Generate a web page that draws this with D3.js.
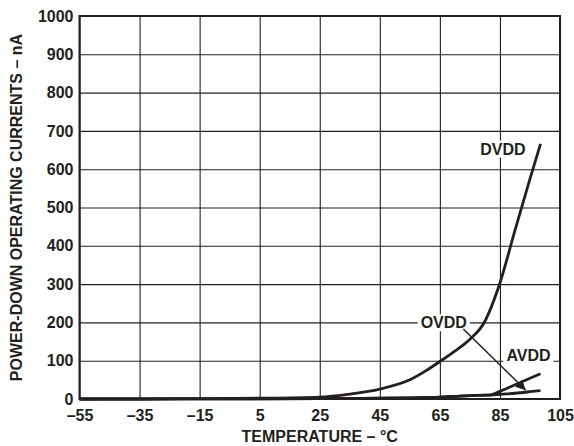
<!DOCTYPE html>
<html>
<head>
<meta charset="utf-8">
<script src="https://cdn.jsdelivr.net/npm/d3@7"></script>
<style>
	body { margin: 0; background: #fff; }
	svg { display: block; font-family: "Liberation Sans", Arial, Helvetica, sans-serif; font-weight: bold; }
</style>
</head>
<body>
<div id="chart"></div>
<script>

// temperature samples, °C
const temps = [ -55, -35, -15, 5, 25, 35, 45, 55, 60, 65, 70, 75, 80, 82, 85, 90, 95, 98.5 ];

// power-down currents, nA
const dvdd = [ 0, 0.5, 1, 2, 5, 13, 26, 50, 72, 98, 125, 156, 203, 238, 303, 440, 575, 666 ];
const avdd = [ 0, 0, 0.5, 0.5, 1, 1.5, 2, 3, 4, 5, 7, 9, 10, 11, 20, 37, 54, 66 ];
const ovdd = [ 0, 0, 0.5, 0.5, 1, 1.5, 2, 3, 4, 5, 7, 9, 10, 10, 12, 15, 19, 22 ];

const xTicks = [ -55, -35, -15, 5, 25, 45, 65, 85, 105 ];
const yTicks = [ 0, 100, 200, 300, 400, 500, 600, 700, 800, 900, 1000 ];

// label anchors in data units [ temp, nA ]
const labels = [
	{ text: "DVDD", at: [ 86, 653 ] },
	{ text: "OVDD", at: [ 66.3, 200 ] },
	{ text: "AVDD", at: [ 94.5, 114 ] }
];
const ovddArrow = [ [ 72.8, 183 ], [ 93.6, 23 ] ];

///////////////////////////////////////////////////////////////////////

const W = 574, H = 446;
const ink = "#231f20";
const font = "bold 16px 'Liberation Sans', Arial, sans-serif";

const svg = d3.select( "#chart" ).append( "svg" )
	.attr( "width", W )
	.attr( "height", H );

const x = d3.scaleLinear( [ -55, 105 ], [ 79.5, 560 ] );
const y = d3.scaleLinear( [ 0, 1000 ], [ 399, 16 ] );

const fmtT = d => d < 0 ? "\u2013" + Math.abs( d ) : String( d );

// grid
svg.append( "g" )
	.attr( "transform", `translate(0,${ y( 0 ) })` )
	.call( d3.axisBottom( x ).tickValues( xTicks ).tickSize( -( y( 0 ) - y( 1000 ) ) ).tickFormat( "" ) )
	.call( g => g.select( ".domain" ).remove() )
	.call( g => g.selectAll( "line" ).attr( "stroke", ink ).attr( "stroke-width", 1.1 ) );

svg.append( "g" )
	.attr( "transform", `translate(${ x( -55 ) },0)` )
	.call( d3.axisLeft( y ).tickValues( yTicks ).tickSize( -( x( 105 ) - x( -55 ) ) ).tickFormat( "" ) )
	.call( g => g.select( ".domain" ).remove() )
	.call( g => g.selectAll( "line" ).attr( "stroke", ink ).attr( "stroke-width", 1.1 ) );

// tick labels
svg.append( "g" )
	.attr( "transform", `translate(0,${ y( 0 ) })` )
	.call( d3.axisBottom( x ).tickValues( xTicks ).tickSize( 0 ).tickPadding( 11 ).tickFormat( fmtT ) )
	.call( g => g.select( ".domain" ).remove() )
	.call( g => g.selectAll( "text" ).attr( "fill", ink ).style( "font", font ) );

svg.append( "g" )
	.attr( "transform", `translate(${ x( -55 ) },0)` )
	.call( d3.axisLeft( y ).tickValues( yTicks ).tickSize( 0 ).tickPadding( 6 ).tickFormat( d3.format( "d" ) ) )
	.call( g => g.select( ".domain" ).remove() )
	.call( g => g.selectAll( "text" ).attr( "fill", ink ).style( "font", font ) );

// frame
svg.append( "rect" )
	.attr( "x", x( -55 ) )
	.attr( "y", y( 1000 ) )
	.attr( "width", x( 105 ) - x( -55 ) )
	.attr( "height", y( 0 ) - y( 1000 ) )
	.attr( "fill", "none" )
	.attr( "stroke", ink )
	.attr( "stroke-width", 2 );

// axis titles
svg.append( "text" )
	.attr( "x", ( x( -55 ) + x( 105 ) ) / 2 )
	.attr( "y", 442 )
	.attr( "text-anchor", "middle" )
	.attr( "fill", ink )
	.style( "font", font )
	.text( "TEMPERATURE \u2013 \u00B0C" );

svg.append( "text" )
	.attr( "transform", `translate(22,${ ( y( 0 ) + y( 1000 ) ) / 2 }) rotate(-90)` )
	.attr( "text-anchor", "middle" )
	.attr( "fill", ink )
	.style( "font", font )
	.text( "POWER-DOWN OPERATING CURRENTS \u2013 nA" );

// curves
const line = d3.line()
	.x( ( d, i ) => x( temps[ i ] ) )
	.y( d => y( d ) )
	.curve( d3.curveMonotoneX );

svg.append( "g" )
	.selectAll( "path" )
	.data( [ ovdd, avdd, dvdd ] )
	.join( "path" )
		.attr( "d", line )
		.attr( "fill", "none" )
		.attr( "stroke", ink )
		.attr( "stroke-width", 2.8 )
		.attr( "stroke-linejoin", "round" );

// labels with white knock-out
const lab = svg.append( "g" )
	.selectAll( "g" )
	.data( labels )
	.join( "g" )
		.attr( "transform", d => `translate(${ x( d.at[ 0 ] ) },${ y( d.at[ 1 ] ) })` );

lab.append( "text" )
	.attr( "text-anchor", "middle" )
	.attr( "dy", "0.36em" )
	.attr( "fill", ink )
	.style( "font", font )
	.text( d => d.text );

lab.each( function()	{
	let g = d3.select( this );
	let b = g.select( "text" ).node().getBBox();
	g.insert( "rect", "text" )
		.attr( "x", b.x - 3 )
		.attr( "y", b.y )
		.attr( "width", b.width + 6 )
		.attr( "height", b.height )
		.attr( "fill", "#fff" );
} );

// arrow OVDD -> curve
svg.append( "defs" ).append( "marker" )
	.attr( "id", "head" )
	.attr( "viewBox", "0 0 10 10" )
	.attr( "refX", 10 )
	.attr( "refY", 5 )
	.attr( "markerWidth", 14 )
	.attr( "markerHeight", 10 )
	.attr( "markerUnits", "userSpaceOnUse" )
	.attr( "orient", "auto" )
	.append( "path" )
		.attr( "d", "M0,0L10,5L0,10Z" )
		.attr( "fill", ink );

svg.append( "line" )
	.attr( "x1", x( ovddArrow[ 0 ][ 0 ] ) )
	.attr( "y1", y( ovddArrow[ 0 ][ 1 ] ) )
	.attr( "x2", x( ovddArrow[ 1 ][ 0 ] ) )
	.attr( "y2", y( ovddArrow[ 1 ][ 1 ] ) )
	.attr( "stroke", ink )
	.attr( "stroke-width", 1.5 )
	.attr( "marker-end", "url(#head)" );

</script>
</body>
</html>
